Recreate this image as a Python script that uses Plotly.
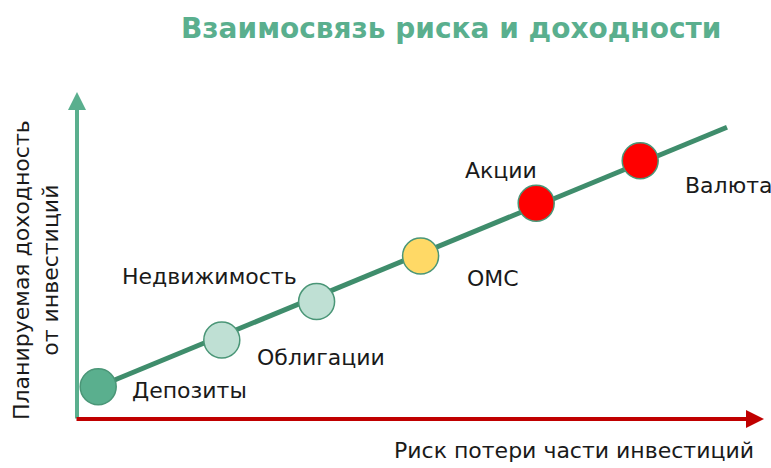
import plotly.graph_objects as go

# ---- data ----
assets = ["Депозиты", "Облигации", "Недвижимость", "ОМС", "Акции", "Валюта"]
risk = [0.53, 3.62, 5.99, 8.59, 11.48, 14.08]
ret = [0.78, 1.95, 2.91, 4.05, 5.37, 6.43]
fill_colors = ["#5aaf8e", "#bfe0d4", "#bfe0d4", "#ffd966", "#ff0000", "#ff0000"]
trend_risk = [0.53, 16.25]
trend_ret = [0.78, 7.27]

title_text = "Взаимосвязь риска и доходности"
y_title = "Планируемая доходность<br>от инвестиций"
x_title = "Риск потери части инвестиций"

W, H = 771, 468
# pixel <-> data mapping (40 px per unit, origin at pixel (77, 418))
K = 40.0
X0, Y0 = 77.0, 418.0
def dx(p):
    return (p - X0) / K
def dy(p):
    return (Y0 - p) / K

FONT = "DejaVu Sans"

fig = go.Figure()
fig.add_trace(go.Scatter(x=trend_risk, y=trend_ret, mode="lines",
                         line=dict(color="#3f8d6c", width=5),
                         hoverinfo="skip", showlegend=False))
fig.add_trace(go.Scatter(x=risk, y=ret, mode="markers", text=assets,
                         marker=dict(size=36, color=fill_colors,
                                     line=dict(color="#4a9677", width=1.5)),
                         showlegend=False))

annotations = []
# axes arrows
annotations.append(dict(x=dx(77), y=dy(92), ax=dx(77), ay=dy(420),
                        xref="x", yref="y", axref="x", ayref="y",
                        showarrow=True, arrowhead=2, arrowsize=0.9,
                        arrowwidth=4, arrowcolor="#5aaf8e", text=""))
annotations.append(dict(x=dx(764), y=dy(419), ax=dx(75), ay=dy(419),
                        xref="x", yref="y", axref="x", ayref="y",
                        showarrow=True, arrowhead=2, arrowsize=0.9,
                        arrowwidth=4, arrowcolor="#c00000", text=""))

# point labels: (text, x-left pixel, y-center pixel)
label_pos = {
    "Депозиты": (130, 390),
    "Облигации": (255, 357),
    "Недвижимость": (120, 276),
    "ОМС": (465, 278),
    "Акции": (463, 170),
    "Валюта": (683, 185),
}
for name in assets:
    lx, ly = label_pos[name]
    annotations.append(dict(x=dx(lx), y=dy(ly), xref="x", yref="y",
                            text=name, showarrow=False, xanchor="left",
                            yanchor="middle",
                            font=dict(family=FONT, size=22, color="#1a1a1a")))

# title
annotations.append(dict(x=dx(451), y=dy(28), xref="x", yref="y",
                        text="<b>" + title_text + "</b>", showarrow=False,
                        xanchor="center", yanchor="middle",
                        font=dict(family=FONT, size=28, color="#5aaf8e")))
# axis titles
annotations.append(dict(x=dx(574), y=dy(450), xref="x", yref="y",
                        text=x_title, showarrow=False,
                        xanchor="center", yanchor="middle",
                        font=dict(family=FONT, size=22, color="#1a1a1a")))
annotations.append(dict(x=dx(36), y=dy(270), xref="x", yref="y",
                        text=y_title, showarrow=False, textangle=-90,
                        xanchor="center", yanchor="middle",
                        font=dict(family=FONT, size=22, color="#1a1a1a")))

fig.update_layout(
    width=W, height=H,
    margin=dict(l=0, r=0, t=0, b=0),
    paper_bgcolor="white", plot_bgcolor="white",
    xaxis=dict(range=[dx(0), dx(W)], visible=False, fixedrange=True),
    yaxis=dict(range=[dy(H), dy(0)], visible=False, fixedrange=True),
    annotations=annotations,
    showlegend=False,
)

fig.write_html("out.html", config={"displayModeBar": False},
               post_script="document.body.style.margin='0';document.body.style.overflow='hidden';")
